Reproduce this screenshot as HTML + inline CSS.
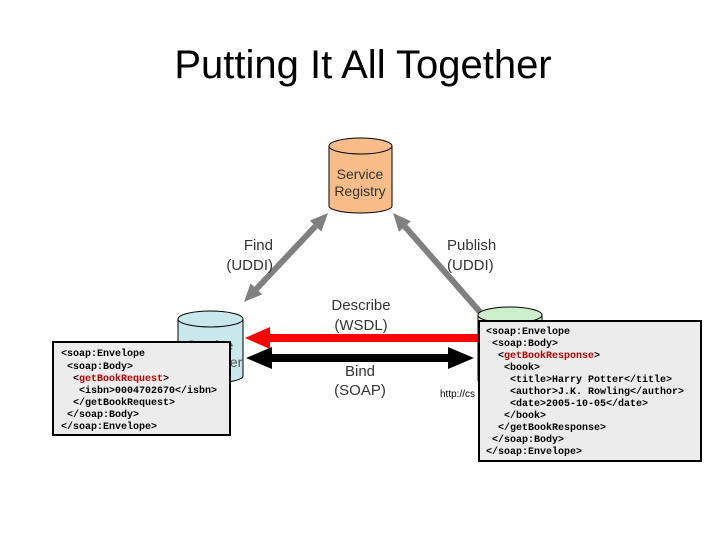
<!DOCTYPE html>
<html><head><style>
body{margin:0;width:720px;height:540px;background:#fff;overflow:hidden}
svg{display:block}
.m{font-family:"Liberation Mono",monospace;font-size:10px;font-weight:bold}
.s{font-family:"Liberation Sans",sans-serif}
</style></head><body>
<svg width="720" height="540" xmlns="http://www.w3.org/2000/svg">
<text x="363" y="78" text-anchor="middle" class="s" font-size="40">Putting It All Together</text>
<!-- gray arrows -->
<line x1="315.6" y1="226.1" x2="256.4" y2="288.9" stroke="#808080" stroke-width="6"/>
<polygon points="328,213 321.4,231.6 309.8,220.6" fill="#808080"/>
<polygon points="244,302 262.2,294.4 250.6,283.4" fill="#808080"/>
<line x1="404.9" y1="226.5" x2="480" y2="312" stroke="#808080" stroke-width="6"/>
<polygon points="393,213 410.9,221.2 398.9,231.8" fill="#808080"/>
<!-- top cylinder -->
<path d="M329,146 V206 A31.5,7 0 0 0 392,206 V146" fill="#f8bc88" stroke="#000"/>
<ellipse cx="360.5" cy="146" rx="31.5" ry="8" fill="#f8bc88" stroke="#000"/>
<text x="360" y="179" text-anchor="middle" class="s" font-size="14" fill="#333">Service</text>
<text x="360" y="196" text-anchor="middle" class="s" font-size="14" fill="#333">Registry</text>
<text x="273" y="250" text-anchor="end" class="s" font-size="15" fill="#333">Find</text>
<text x="273" y="270" text-anchor="end" class="s" font-size="15" fill="#333">(UDDI)</text>
<text x="447" y="250" class="s" font-size="15" fill="#333">Publish</text>
<text x="447" y="270" class="s" font-size="15" fill="#333">(UDDI)</text>
<text x="361" y="310" text-anchor="middle" class="s" font-size="15" fill="#333">Describe</text>
<text x="361" y="330" text-anchor="middle" class="s" font-size="15" fill="#333">(WSDL)</text>
<text x="360" y="376" text-anchor="middle" class="s" font-size="15" fill="#333">Bind</text>
<text x="360" y="395" text-anchor="middle" class="s" font-size="15" fill="#333">(SOAP)</text>
<!-- left cylinder -->
<path d="M178,319 V376 A32.5,7 0 0 0 243,376 V319" fill="#c8e8ec" stroke="#000"/>
<ellipse cx="210.5" cy="319" rx="32.5" ry="8" fill="#c8e8ec" stroke="#000"/>
<text x="210" y="350" text-anchor="middle" class="s" font-size="14" fill="#555">Service</text>
<text x="210" y="367" text-anchor="middle" class="s" font-size="14" fill="#555">Requester</text>
<!-- right cylinder -->
<path d="M478,315 V380 A32,7 0 0 0 542,380 V315" fill="#ccf0cc" stroke="#000"/>
<ellipse cx="510" cy="315" rx="32" ry="8" fill="#ccf0cc" stroke="#000"/>
<text x="440" y="397" class="s" font-size="10">http://cs</text>
<!-- red / black arrows -->
<rect x="268" y="334" width="210" height="8" fill="#f00"/>
<polygon points="245,338 270,327 270,349" fill="#f00"/>
<rect x="270" y="354" width="180" height="8" fill="#000"/>
<polygon points="246,358 272,347 272,369" fill="#000"/>
<polygon points="474,358 448,347 448,369" fill="#000"/>
<!-- left box -->
<rect x="53" y="342" width="177" height="93" fill="#ececec" stroke="#000" stroke-width="2"/>
<g class="m">
<text x="61" y="356">&lt;soap:Envelope</text>
<text x="67" y="369">&lt;soap:Body&gt;</text>
<text x="73" y="381">&lt;<tspan fill="#c00000">getBookRequest</tspan>&gt;</text>
<text x="79" y="393">&lt;isbn&gt;0004702670&lt;/isbn&gt;</text>
<text x="73" y="405">&lt;/getBookRequest&gt;</text>
<text x="67" y="417">&lt;/soap:Body&gt;</text>
<text x="61" y="429">&lt;/soap:Envelope&gt;</text>
</g>
<!-- right box -->
<rect x="479" y="321" width="222" height="140" fill="#ececec" stroke="#000" stroke-width="2"/>
<g class="m">
<text x="486" y="334">&lt;soap:Envelope</text>
<text x="492" y="346">&lt;soap:Body&gt;</text>
<text x="498" y="358">&lt;<tspan fill="#c00000">getBookResponse</tspan>&gt;</text>
<text x="504" y="370">&lt;book&gt;</text>
<text x="510" y="382">&lt;title&gt;Harry Potter&lt;/title&gt;</text>
<text x="510" y="394">&lt;author&gt;J.K. Rowling&lt;/author&gt;</text>
<text x="510" y="406">&lt;date&gt;2005-10-05&lt;/date&gt;</text>
<text x="504" y="418">&lt;/book&gt;</text>
<text x="498" y="430">&lt;/getBookResponse&gt;</text>
<text x="492" y="442">&lt;/soap:Body&gt;</text>
<text x="486" y="454">&lt;/soap:Envelope&gt;</text>
</g>
</svg>
</body></html>
